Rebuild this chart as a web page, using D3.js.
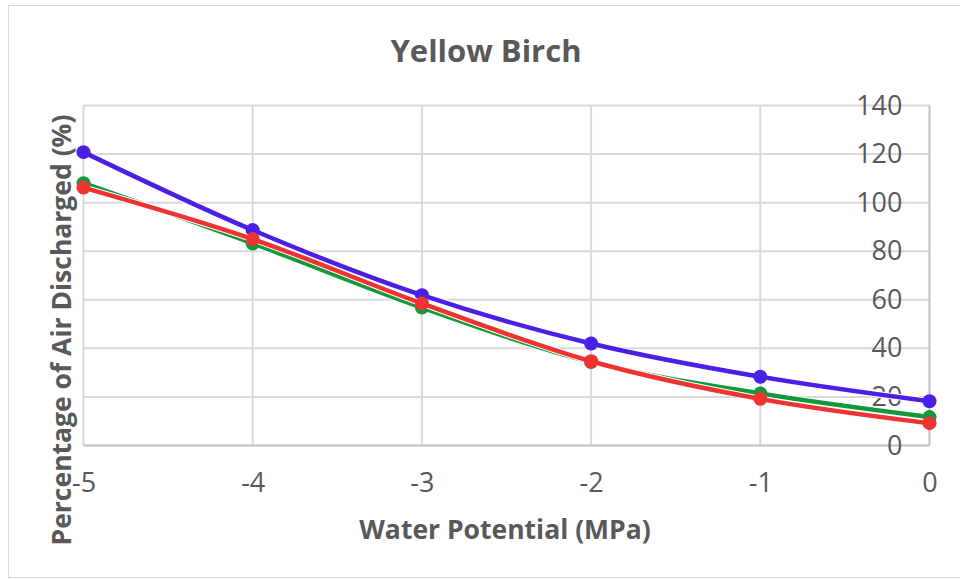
<!DOCTYPE html>
<html>
<head>
<meta charset="utf-8">
<script src="https://cdn.jsdelivr.net/npm/d3@7"></script>
<style>
  html, body { margin: 0; padding: 0; background: #fff; }
  svg { display: block; font-family: "Open Sans", "Noto Sans", sans-serif; }
</style>
</head>
<body>
<svg id="chart" width="960" height="580"></svg>
<script>
// Water potential (MPa) on the horizontal axis
const potentials = [-5, -4, -3, -2, -1, 0];
// Percentage of air discharged for each run
const seriesPurple = [120.8, 88.7, 61.9, 42.0, 28.3, 18.2];
const seriesGreen  = [108.0, 83.2, 56.8, 34.4, 21.4, 11.7];
const seriesRed    = [106.2, 85.0, 58.5, 34.7, 19.2, 9.2];
const seriesNames  = ["Purple", "Green", "Red"];
const seriesColors = ["#4a1fe6", "#12993b", "#ef3232"];
const xTicks = [-5, -4, -3, -2, -1, 0];
const yTicks = [0, 20, 40, 60, 80, 100, 120, 140];

const svg = d3.select("#chart");
const textColor = "#595959";

// chart frame
svg.append("rect")
  .attr("x", 8.5).attr("y", 5.5)
  .attr("width", 960).attr("height", 572)
  .attr("fill", "#fff").attr("stroke", "#d9d9d9").attr("stroke-width", 1);

const x = d3.scaleLinear().domain([-5, 0]).range([83.5, 929.5]);
const y = d3.scaleLinear().domain([0, 140]).range([445.5, 105.5]);

// horizontal gridlines
svg.append("g")
  .selectAll("line").data(yTicks.filter(d => d > 0)).join("line")
  .attr("x1", x(-5)).attr("x2", x(0))
  .attr("y1", d => y(d)).attr("y2", d => y(d))
  .attr("stroke", "#d9d9d9").attr("stroke-width", 2);

// vertical gridlines
svg.append("g")
  .selectAll("line").data(xTicks.filter(d => d < 0)).join("line")
  .attr("x1", d => x(d)).attr("x2", d => x(d))
  .attr("y1", y(140)).attr("y2", y(0))
  .attr("stroke", "#d9d9d9").attr("stroke-width", 2);

// axis lines: value axis crosses at x = 0, category axis at y = 0
svg.append("line")
  .attr("x1", x(0)).attr("x2", x(0)).attr("y1", y(140)).attr("y2", y(0))
  .attr("stroke", "#bfbfbf").attr("stroke-width", 2);
svg.append("line")
  .attr("x1", x(-5)).attr("x2", x(0)).attr("y1", y(0)).attr("y2", y(0))
  .attr("stroke", "#bfbfbf").attr("stroke-width", 2);

// y tick labels (left of the axis at x = 0)
const yAxis = d3.axisLeft(y).tickValues(yTicks).tickSize(0).tickPadding(0);
const gy = svg.append("g").attr("transform", `translate(${x(0) - 27},0)`).call(yAxis);
gy.select(".domain").remove();
gy.selectAll("text")
  .attr("fill", textColor).attr("font-size", 27)
  .attr("font-family", "'Open Sans', sans-serif");

// x tick labels
const xAxis = d3.axisBottom(x).tickValues(xTicks).tickSize(0).tickPadding(0)
  .tickFormat(d => d === 0 ? "0" : "-" + Math.abs(d));
const gx = svg.append("g").attr("transform", `translate(0,${y(0) + 27})`).call(xAxis);
gx.select(".domain").remove();
gx.selectAll("text")
  .attr("fill", textColor).attr("font-size", 27)
  .attr("font-family", "'Open Sans', sans-serif");

// series lines and markers
const series = [seriesPurple, seriesGreen, seriesRed].map((vals, i) => ({
  name: seriesNames[i],
  color: seriesColors[i],
  points: potentials.map((p, j) => ({ p, v: vals[j] }))
}));

const line = d3.line()
  .x(d => x(d.p)).y(d => y(d.v))
  .curve(d3.curveCatmullRom.alpha(0.5));

const gs = svg.append("g");
series.forEach(s => {
  const g = gs.append("g").attr("class", "series");
  g.append("path").datum(s.points)
    .attr("d", line).attr("fill", "none")
    .attr("stroke", "#fff").attr("stroke-width", 6.5)
    .attr("stroke-linejoin", "round").attr("stroke-linecap", "round");
  g.append("path").datum(s.points)
    .attr("d", line).attr("fill", "none")
    .attr("stroke", s.color).attr("stroke-width", 4.5)
    .attr("stroke-linejoin", "round").attr("stroke-linecap", "round");
  g.selectAll("circle").data(s.points).join("circle")
    .attr("cx", d => x(d.p)).attr("cy", d => y(d.v))
    .attr("r", 7).attr("fill", s.color);
});

// titles
svg.append("text")
  .attr("x", 486).attr("y", 62)
  .attr("text-anchor", "middle")
  .attr("font-size", 31).attr("font-weight", "bold")
  .attr("fill", textColor)
  .text("Yellow Birch");

svg.append("text")
  .attr("x", 505).attr("y", 539)
  .attr("text-anchor", "middle")
  .attr("font-size", 26.5).attr("font-weight", "bold")
  .attr("fill", textColor)
  .text("Water Potential (MPa)");

svg.append("text")
  .attr("transform", "translate(71,330) rotate(-90)")
  .attr("text-anchor", "middle")
  .attr("font-size", 26.5).attr("font-weight", "bold")
  .attr("fill", textColor)
  .text("Percentage of Air Discharged (%)");
</script>
</body>
</html>
